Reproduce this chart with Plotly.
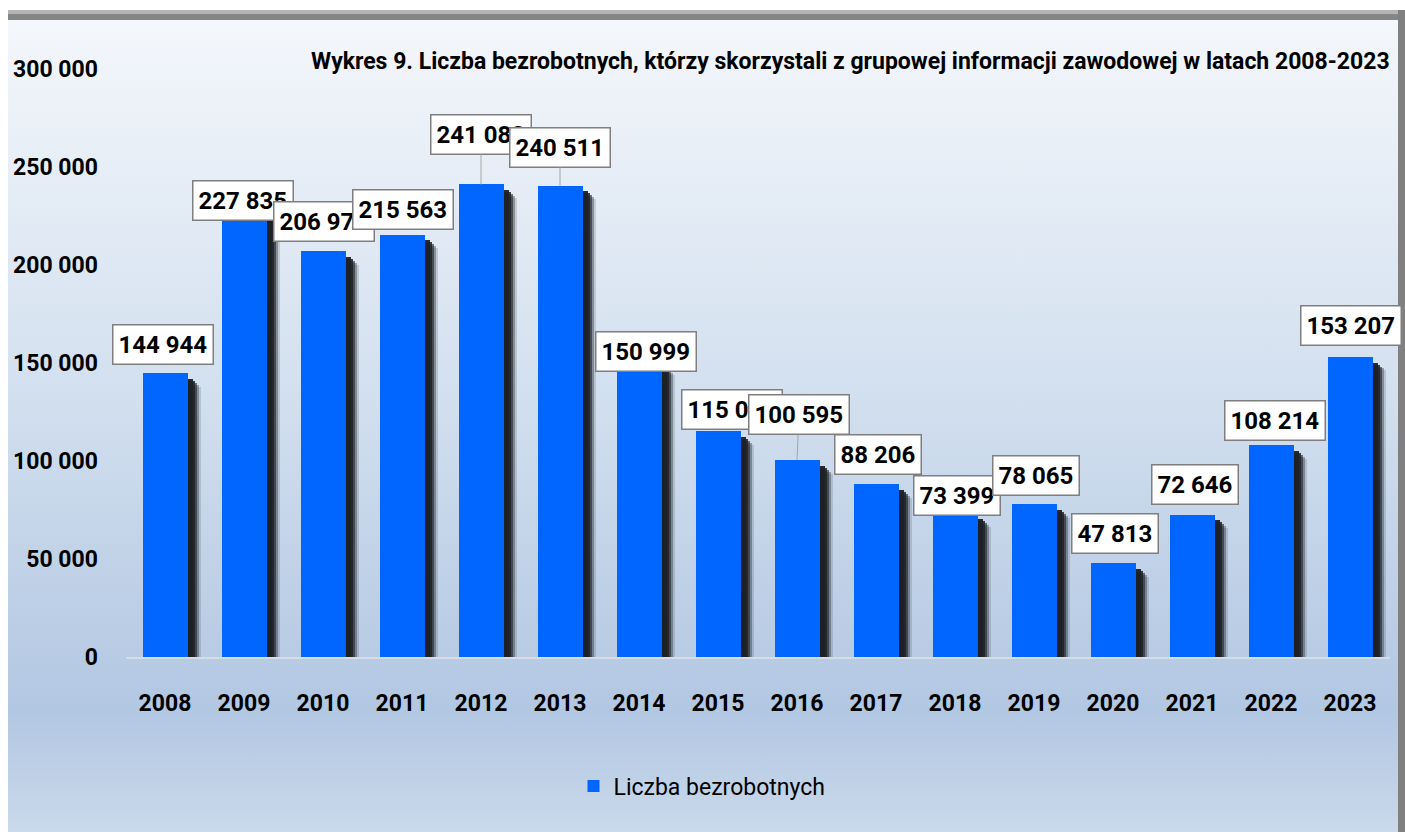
import plotly.graph_objects as go

# Liczba bezrobotnych korzystających z grupowej informacji zawodowej
years = ["2008", "2009", "2010", "2011", "2012", "2013", "2014", "2015",
         "2016", "2017", "2018", "2019", "2020", "2021", "2022", "2023"]
values = [144944, 227835, 206975, 215563, 241082, 240511, 150999, 115080,
          100595, 88206, 73399, 78065, 47813, 72646, 108214, 153207]
y_ticks = [0, 50000, 100000, 150000, 200000, 250000, 300000]

title_text = ("Wykres 9. Liczba bezrobotnych, którzy skorzystali z grupowej "
              "informacji zawodowej w latach 2008-2023")
series_name = "Liczba bezrobotnych"

# label placement: pixel lift above the bar top and horizontal nudge
label_lift = [28, 10, 30, 25, 50, 38, 10, 22, 45, 30, 18, 28, 30, 30, 24, 31]
label_nudge = [-2, -1, 1, 1, 0, 0, 7, 14, 2, 2, 2, 2, 2, 3, 4, 1]

W, H = 1405, 832
FONT = "Roboto, Arial, sans-serif"
BAR_BLUE = "#0066ff"

pos = list(range(len(years)))


def fmt(v):
    return f"{v:,}".replace(",", " ")


fig = go.Figure()

# chart area background with vertical gradient (full-page helper axes)
fig.add_trace(go.Scatter(
    x=[8, 1398, 1398, 8, 8], y=[0, 0, 812, 812, 0],
    mode="lines", fill="toself", line=dict(width=0),
    fillgradient=dict(type="vertical",
                      colorscale=[[0, "#cad9eb"], [120 / 812, "#b2c7e2"],
                                  [0.55, "#d3e0ef"], [1, "#f4f7fb"]]),
    hoverinfo="skip", showlegend=False, xaxis="x", yaxis="y",
))

# soft drop shadow to the right of each bar (layered for a fading edge)
bar_w = 0.57
shadow_layers = [(0.165, 7000, 0.15), (0.14, 6000, 0.35), (0.115, 5000, 0.6),
                 (0.09, 4000, 0.85), (0.06, 3000, 0.95)]
for shift, drop, alpha in shadow_layers:
    fig.add_trace(go.Bar(
        x=pos, y=[v - drop for v in values],
        width=bar_w, offset=-bar_w / 2 + shift,
        marker=dict(color=f"rgba(30,33,38,{alpha})", line=dict(width=0)),
        hoverinfo="skip", showlegend=False, xaxis="x2", yaxis="y2",
    ))

fig.add_trace(go.Bar(
    x=pos, y=values, name=series_name,
    width=bar_w, offset=-bar_w / 2,
    marker=dict(color=BAR_BLUE, line=dict(width=0)),
    xaxis="x2", yaxis="y2",
))

# data labels in white boxes, with leader lines where the gap is large
annotations = []
for p, v, lift, nudge in zip(pos, values, label_lift, label_nudge):
    long_leader = lift >= 35
    annotations.append(dict(
        x=p, y=v, xref="x2", yref="y2",
        text=fmt(v), showarrow=True,
        ax=nudge, ay=-lift, axref="pixel", ayref="pixel",
        arrowhead=0, arrowwidth=1 if long_leader else 0.1,
        arrowcolor="#a6a6a6" if long_leader else "rgba(0,0,0,0)",
        standoff=0,
        font=dict(family=FONT, size=24, color="#000000", weight="bold"),
        bgcolor="#ffffff", bordercolor="#7f7f7f", borderwidth=1.5, borderpad=5,
    ))

annotations.append(dict(
    x=1392 / W, y=(H - 62) / H, xref="paper", yref="paper",
    xanchor="right", yanchor="middle", showarrow=False,
    text=title_text,
    font=dict(family=FONT, size=23, color="#000000", weight="bold"),
))

shapes = [
    dict(type="rect", xref="paper", yref="paper", layer="above",
         x0=8 / W, x1=1, y0=(H - 20) / H, y1=(H - 14) / H,
         fillcolor="#858585", line=dict(width=0)),
    dict(type="rect", xref="paper", yref="paper", layer="above",
         x0=8 / W, x1=1, y0=(H - 14) / H, y1=(H - 10) / H,
         fillcolor="#b4b4b4", line=dict(width=0)),
    dict(type="rect", xref="paper", yref="paper", layer="above",
         x0=1398 / W, x1=1, y0=0, y1=(H - 10) / H,
         fillcolor="#808080", line=dict(width=0)),
]

fig.update_layout(
    width=W, height=H,
    margin=dict(l=0, r=0, t=0, b=0, autoexpand=False),
    paper_bgcolor="#ffffff", plot_bgcolor="rgba(0,0,0,0)",
    barmode="overlay", bargap=0,
    showlegend=True,
    legend=dict(orientation="h", x=702 / W, xanchor="center",
                y=(H - 786) / H, yanchor="middle",
                bgcolor="rgba(0,0,0,0)",
                font=dict(family=FONT, size=23, color="#000000")),
    xaxis=dict(domain=[0, 1], range=[0, W], visible=False, fixedrange=True),
    yaxis=dict(domain=[0, 1], range=[0, H], visible=False, fixedrange=True),
    xaxis2=dict(domain=[125.5 / W, 1389.5 / W], anchor="y2",
                range=[-0.5, len(years) - 0.5],
                tickvals=pos, ticktext=years,
                showgrid=False, zeroline=False,
                showline=True, linecolor="#d6dde8", linewidth=2,
                ticks="outside", ticklen=24, tickcolor="rgba(0,0,0,0)",
                tickfont=dict(family=FONT, size=23, color="#000000", weight="bold")),
    yaxis2=dict(domain=[(H - 657) / H, (H - 69) / H], anchor="x2",
                range=[0, 300000], tickvals=y_ticks,
                ticktext=[fmt(t) for t in y_ticks],
                showgrid=False, zeroline=False, showline=False,
                ticks="outside", ticklen=22, tickcolor="rgba(0,0,0,0)",
                tickfont=dict(family=FONT, size=23, color="#000000", weight="bold")),
    annotations=annotations,
    shapes=shapes,
)

fig.write_html("out.html")
